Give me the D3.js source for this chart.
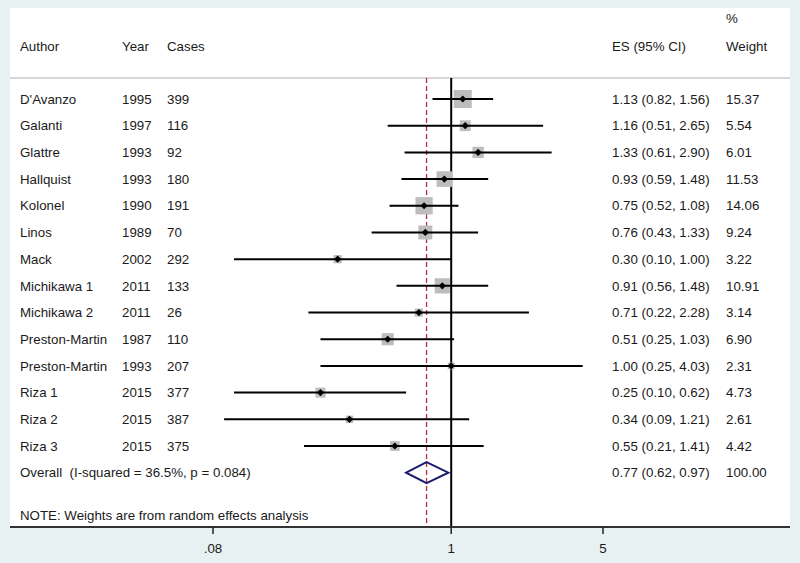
<!DOCTYPE html>
<html>
<head>
<meta charset="utf-8">
<script src="https://cdn.jsdelivr.net/npm/d3@7"></script>
<style>
  body { margin: 0; background: #e8f1f2; }
  svg { display: block; }
  text { font-family: "Liberation Sans", Arial, sans-serif; font-size: 13.3px; fill: #1a1a1a; white-space: pre; }
</style>
</head>
<body>
<svg id="chart" width="800" height="563"></svg>
<script>
// study data
var authors = ["D'Avanzo","Galanti","Glattre","Hallquist","Kolonel","Linos","Mack","Michikawa 1","Michikawa 2","Preston-Martin","Preston-Martin","Riza 1","Riza 2","Riza 3"];
var years   = [1995,1997,1993,1993,1990,1989,2002,2011,2011,1987,1993,2015,2015,2015];
var cases   = [399,116,92,180,191,70,292,133,26,110,207,377,387,375];
var es      = [1.13,1.16,1.33,0.93,0.75,0.76,0.30,0.91,0.71,0.51,1.00,0.25,0.34,0.55];
var lo      = [0.82,0.51,0.61,0.59,0.52,0.43,0.10,0.56,0.22,0.25,0.25,0.10,0.09,0.21];
var hi      = [1.56,2.65,2.90,1.48,1.08,1.33,1.00,1.48,2.28,1.03,4.03,0.62,1.21,1.41];
var weights = [15.37,5.54,6.01,11.53,14.06,9.24,3.22,10.91,3.14,6.90,2.31,4.73,2.61,4.42];
var overall = {label: "Overall  (I-squared = 36.5%, p = 0.084)", es: 0.77, lo: 0.62, hi: 0.97, weight: "100.00"};
var tickVals = [0.08, 1, 5];
var tickLabels = [".08", "1", "5"];

var panel = {left: 10, right: 790, top: 8, bottom: 527};
var sepY = 78;

var svg = d3.select("#chart");

svg.append("rect")
  .attr("x", panel.left).attr("y", panel.top)
  .attr("width", panel.right - panel.left)
  .attr("height", panel.bottom - panel.top)
  .attr("fill", "white");

// scales
var x = d3.scaleLog()
  .domain([0.08, 5])
  .range([213, 603]);
var rows = d3.range(authors.length + 1);
var y = d3.scalePoint()
  .domain(rows)
  .range([99, 472.7]);

var fmt = d3.format(".2f");
var col = {author: 20, year: 122, cases: 167, es: 612, weight: 726};

// header
svg.append("text").attr("x", col.author).attr("y", 46).attr("dy", "0.35em").text("Author");
svg.append("text").attr("x", col.year).attr("y", 46).attr("dy", "0.35em").text("Year");
svg.append("text").attr("x", col.cases).attr("y", 46).attr("dy", "0.35em").text("Cases");
svg.append("text").attr("x", col.es).attr("y", 46).attr("dy", "0.35em").text("ES (95% CI)");
svg.append("text").attr("x", col.weight).attr("y", 18).attr("dy", "0.35em").text("%");
svg.append("text").attr("x", col.weight).attr("y", 46).attr("dy", "0.35em").text("Weight");

svg.append("line")
  .attr("x1", panel.left).attr("x2", panel.right)
  .attr("y1", sepY).attr("y2", sepY)
  .attr("stroke", "#c8c8c8").attr("stroke-width", 1.5);

// reference lines
svg.append("line")
  .attr("x1", x(1)).attr("x2", x(1))
  .attr("y1", sepY).attr("y2", panel.bottom)
  .attr("stroke", "black").attr("stroke-width", 2);
svg.append("line")
  .attr("x1", x(overall.es)).attr("x2", x(overall.es))
  .attr("y1", sepY).attr("y2", panel.bottom)
  .attr("stroke", "#b0303c").attr("stroke-width", 1.3)
  .attr("stroke-dasharray", "5,3");

// studies
var studies = authors.map(function(a, i) {
  return {i: i, author: a, year: years[i], cases: cases[i], es: es[i], lo: lo[i], hi: hi[i], w: weights[i]};
});

var g = svg.selectAll(".study").data(studies).enter().append("g").attr("class", "study");

g.append("rect")
  .attr("x", function(d) { return x(d.es) - 2.3 * Math.sqrt(d.w); })
  .attr("y", function(d) { return y(d.i) - 2.3 * Math.sqrt(d.w); })
  .attr("width", function(d) { return 4.6 * Math.sqrt(d.w); })
  .attr("height", function(d) { return 4.6 * Math.sqrt(d.w); })
  .attr("fill", "#bdbdbd");
g.append("line")
  .attr("x1", function(d) { return x(d.lo); })
  .attr("x2", function(d) { return x(d.hi); })
  .attr("y1", function(d) { return y(d.i); })
  .attr("y2", function(d) { return y(d.i); })
  .attr("stroke", "black").attr("stroke-width", 2);
g.append("path")
  .attr("d", function(d) {
    var cx = x(d.es), cy = y(d.i), r = 3.6;
    return "M" + (cx - r) + "," + cy + "L" + cx + "," + (cy - r) + "L" + (cx + r) + "," + cy + "L" + cx + "," + (cy + r) + "Z";
  })
  .attr("fill", "black");

g.append("text").attr("x", col.author).attr("y", function(d) { return y(d.i); }).attr("dy", "0.35em").text(function(d) { return d.author; });
g.append("text").attr("x", col.year).attr("y", function(d) { return y(d.i); }).attr("dy", "0.35em").text(function(d) { return d.year; });
g.append("text").attr("x", col.cases).attr("y", function(d) { return y(d.i); }).attr("dy", "0.35em").text(function(d) { return d.cases; });
g.append("text").attr("x", col.es).attr("y", function(d) { return y(d.i); }).attr("dy", "0.35em")
  .text(function(d) { return fmt(d.es) + " (" + fmt(d.lo) + ", " + fmt(d.hi) + ")"; });
g.append("text").attr("x", col.weight).attr("y", function(d) { return y(d.i); }).attr("dy", "0.35em").text(function(d) { return fmt(d.w); });

// overall
var oy = y(authors.length);
svg.append("path")
  .attr("d", "M" + x(overall.lo) + "," + oy + "L" + x(overall.es) + "," + (oy - 10.5) +
    "L" + x(overall.hi) + "," + oy + "L" + x(overall.es) + "," + (oy + 10.5) + "Z")
  .attr("fill", "none").attr("stroke", "#1c1c70").attr("stroke-width", 2);
svg.append("text").attr("x", col.author).attr("y", oy).attr("dy", "0.35em").text(overall.label);
svg.append("text").attr("x", col.es).attr("y", oy).attr("dy", "0.35em")
  .text(fmt(overall.es) + " (" + fmt(overall.lo) + ", " + fmt(overall.hi) + ")");
svg.append("text").attr("x", col.weight).attr("y", oy).attr("dy", "0.35em").text(overall.weight);

svg.append("text").attr("x", col.author).attr("y", 515).attr("dy", "0.35em")
  .text("NOTE: Weights are from random effects analysis");

// axis
var axis = svg.append("g").attr("transform", "translate(0," + panel.bottom + ")");
axis.append("line")
  .attr("x1", panel.left).attr("x2", panel.right)
  .attr("y1", 0).attr("y2", 0)
  .attr("stroke", "#333").attr("stroke-width", 2);
axis.selectAll(".tick").data(tickVals).enter().append("line")
  .attr("x1", function(d) { return x(d); }).attr("x2", function(d) { return x(d); })
  .attr("y1", 0).attr("y2", 7)
  .attr("stroke", "#222").attr("stroke-width", 1.5);
axis.selectAll(".tlab").data(tickVals).enter().append("text")
  .attr("x", function(d) { return x(d); })
  .attr("y", 21).attr("dy", "0.35em")
  .attr("text-anchor", "middle")
  .text(function(d, i) { return tickLabels[i]; });
</script>
</body>
</html>
